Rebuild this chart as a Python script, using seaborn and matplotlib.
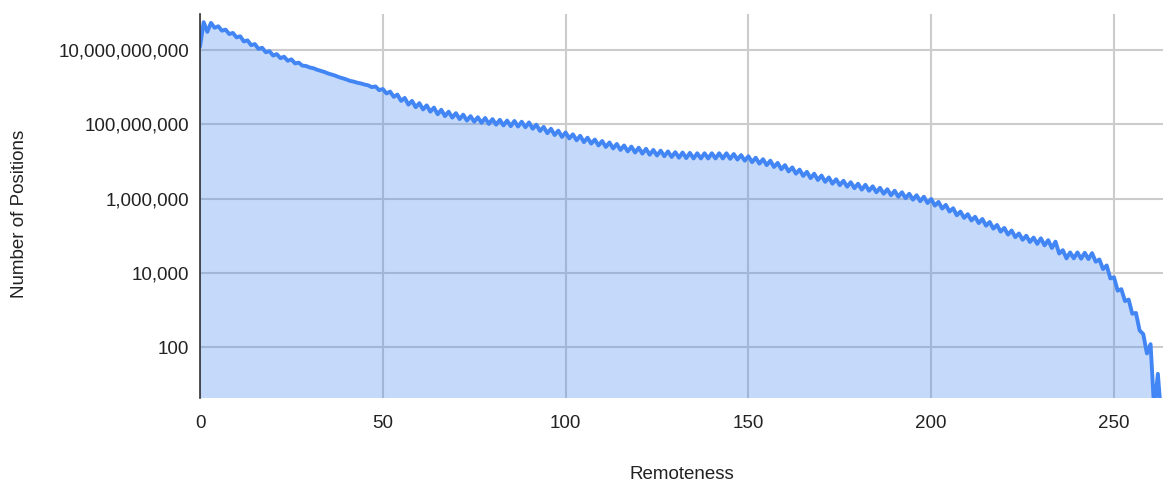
import numpy as np
import pandas as pd
import matplotlib
matplotlib.use("Agg")
import matplotlib.pyplot as plt
import seaborn as sns
from matplotlib.ticker import FixedLocator, FuncFormatter

# ====================== DATA =======================
# remoteness 0..263, values as log10(number of positions)
remoteness = list(range(264))

log_positions = [
    10.09, 10.75, 10.49, 10.73, 10.60, 10.64, 10.52, 10.55, 10.43, 10.46,  # 0-9
    10.34, 10.37, 10.23, 10.26, 10.13, 10.16, 10.03, 10.06, 9.94, 9.97,    # 10-19
    9.85, 9.89, 9.78, 9.82, 9.71, 9.75, 9.64, 9.66, 9.58, 9.57,            # 20-29
    9.53, 9.51, 9.47, 9.44, 9.41, 9.37, 9.34, 9.31, 9.27, 9.24,            # 30-39
    9.21, 9.17, 9.15, 9.12, 9.10, 9.07, 9.05, 9.00, 9.02, 8.92,            # 40-49
    8.95, 8.83, 8.88, 8.74, 8.80, 8.63, 8.71, 8.53, 8.63, 8.46,            # 50-59
    8.57, 8.40, 8.51, 8.34, 8.45, 8.27, 8.39, 8.22, 8.34, 8.18,            # 60-69
    8.30, 8.14, 8.26, 8.10, 8.22, 8.07, 8.19, 8.04, 8.17, 8.01,            # 70-79
    8.14, 7.99, 8.12, 7.97, 8.10, 7.95, 8.09, 7.94, 8.07, 7.92,            # 80-89
    8.05, 7.88, 7.99, 7.82, 7.93, 7.76, 7.88, 7.71, 7.83, 7.66,            # 90-99
    7.78, 7.62, 7.73, 7.57, 7.69, 7.52, 7.64, 7.48, 7.59, 7.43,            # 100-109
    7.55, 7.39, 7.51, 7.35, 7.47, 7.31, 7.43, 7.27, 7.40, 7.24,            # 110-119
    7.37, 7.21, 7.34, 7.18, 7.31, 7.16, 7.29, 7.14, 7.27, 7.12,            # 120-129
    7.25, 7.10, 7.24, 7.09, 7.23, 7.08, 7.22, 7.08, 7.22, 7.08,            # 130-139
    7.22, 7.08, 7.22, 7.08, 7.22, 7.07, 7.20, 7.05, 7.17, 7.02,            # 140-149
    7.14, 6.98, 7.10, 6.94, 7.06, 6.90, 7.02, 6.85, 6.96, 6.79,            # 150-159
    6.90, 6.73, 6.84, 6.67, 6.78, 6.61, 6.72, 6.55, 6.67, 6.50,            # 160-169
    6.62, 6.45, 6.57, 6.40, 6.52, 6.36, 6.48, 6.32, 6.44, 6.28,            # 170-179
    6.40, 6.24, 6.37, 6.21, 6.33, 6.17, 6.29, 6.13, 6.25, 6.09,            # 180-189
    6.21, 6.05, 6.17, 6.01, 6.13, 5.97, 6.09, 5.93, 6.05, 5.88,            # 190-199
    5.99, 5.81, 5.91, 5.73, 5.83, 5.65, 5.74, 5.55, 5.65, 5.48,            # 200-209
    5.58, 5.41, 5.51, 5.34, 5.45, 5.27, 5.37, 5.19, 5.29, 5.11,            # 210-219
    5.21, 5.03, 5.14, 4.96, 5.06, 4.89, 5.00, 4.83, 4.95, 4.78,            # 220-229
    4.93, 4.74, 4.88, 4.67, 4.84, 4.52, 4.61, 4.39, 4.55, 4.39,            # 230-239
    4.55, 4.38, 4.54, 4.37, 4.53, 4.30, 4.36, 4.10, 4.20, 3.85,            # 240-249
    3.88, 3.52, 3.56, 3.24, 3.28, 2.90, 2.92, 2.45, 2.35, 1.83,            # 250-259
    2.08, 0.30, 1.28, 0.00,                                                # 260-263
]

ytick_values = [1e2, 1e4, 1e6, 1e8, 1e10]
xtick_values = [0, 50, 100, 150, 200, 250]

df = pd.DataFrame({"Remoteness": remoteness,
                   "Positions": 10 ** np.array(log_positions)})

# ====================== STYLE =======================
sns.set_style("white")
plt.rcParams["font.family"] = ["Liberation Sans", "DejaVu Sans"]

LINE = "#4285F4"
GRID = "#cccccc"
TEXT = "#222222"
FS = 13.5

fig = plt.figure(figsize=(11.65, 4.83), dpi=100)
ax = fig.add_axes([200 / 1165, 1 - 398 / 483, 963 / 1165, 384 / 483])

ax.set_yscale("log")
ax.set_xlim(0, 263.4)
ax.set_ylim(10 ** 0.63, 10 ** 10.97)

# grid under the fill so it shows through tinted
ax.set_axisbelow(True)
ax.grid(True, color=GRID, linewidth=1.5)

ax.fill_between(df["Remoteness"], df["Positions"], 1e-3,
                color=LINE, alpha=0.3, linewidth=0, zorder=2)
sns.lineplot(data=df, x="Remoteness", y="Positions", ax=ax,
             color=LINE, linewidth=2.8, zorder=3)
ax.lines[-1].set_solid_joinstyle("round")

ax.yaxis.set_major_locator(FixedLocator(ytick_values))
ax.yaxis.set_minor_locator(FixedLocator([]))
ax.yaxis.set_major_formatter(FuncFormatter(lambda v, p: f"{v:,.0f}"))
ax.xaxis.set_major_locator(FixedLocator(xtick_values))

ax.tick_params(axis="both", length=0, labelsize=FS, colors=TEXT)
ax.tick_params(axis="y", pad=8)
ax.tick_params(axis="x", pad=12)

for side in ["top", "right", "bottom"]:
    ax.spines[side].set_visible(False)
ax.spines["left"].set_color("#333333")
ax.spines["left"].set_linewidth(1.2)
ax.spines["left"].set_zorder(4)

ax.set_xlabel("Remoteness", fontsize=FS, color=TEXT)
ax.set_ylabel("Number of Positions", fontsize=FS, color=TEXT)
ax.xaxis.set_label_coords(0.5, -0.178)
ax.yaxis.set_label_coords(-0.179, 0.48)

plt.savefig("out.png", dpi=100)
